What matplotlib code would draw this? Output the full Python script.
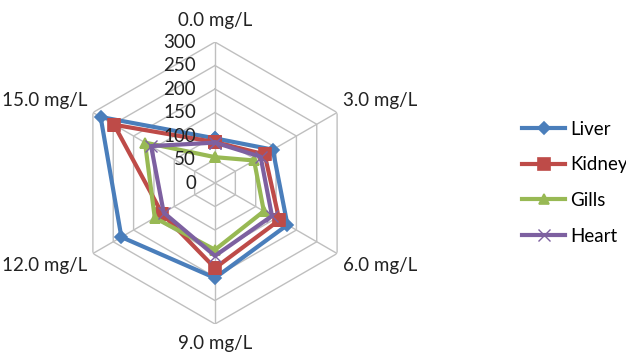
import numpy as np
import matplotlib
matplotlib.use("Agg")
import matplotlib.pyplot as plt

categories = ["0.0 mg/L", "3.0 mg/L", "6.0 mg/L", "9.0 mg/L", "12.0 mg/L", "15.0 mg/L"]
liver = [95, 142, 178, 202, 230, 281]
kidney = [87, 122, 158, 181, 130, 248]
gills = [55, 96, 120, 142, 148, 172]
heart = [86, 112, 140, 155, 126, 157]
r_ticks = [0, 50, 100, 150, 200, 250, 300]

plt.rcParams['font.family'] = ['Lato', 'DejaVu Sans']
FS = 13.5

fig = plt.figure(figsize=(6.26, 3.54), dpi=100)
ax = fig.add_axes([0.1182, 0.0847, 0.4505, 0.7966], polar=True)
ax.set_theta_zero_location('N')
ax.set_theta_direction(-1)
ax.set_ylim(0, 300)
ax.grid(False)
ax.spines['polar'].set_visible(False)
ax.set_xticks([])
ax.set_yticks([])

n = len(categories)
theta = np.linspace(0, 2 * np.pi, n, endpoint=False)
theta_c = np.append(theta, theta[0])

# hexagonal grid
for r in r_ticks[1:]:
    ax.plot(theta_c, [r] * (n + 1), color='#bfbfbf', lw=1.0, zorder=1)
for t in theta:
    ax.plot([t, t], [0, r_ticks[-1]], color='#bfbfbf', lw=1.0, zorder=1)

series = [
    ("Liver", liver, '#4A7EBB', 'D', 6),
    ("Kidney", kidney, '#BE4B48', 's', 8),
    ("Gills", gills, '#98B954', '^', 7),
    ("Heart", heart, '#7D60A0', 'x', 8),
]
handles = []
for name, vals, col, mk, ms in series:
    v = np.append(vals, vals[0])
    h, = ax.plot(theta_c, v, color=col, lw=3.0, marker=mk, ms=ms,
                 markeredgewidth=1.2 if mk != 'x' else 1.0,
                 markerfacecolor=col, markeredgecolor=col, label=name, zorder=3)
    handles.append(h)

inv = fig.transFigure.inverted()
# radial tick labels, left of the vertical spoke
for r in r_ticks:
    x, y = ax.transData.transform((0, r))
    fx, fy = inv.transform((x - 19, y))
    fig.text(fx, fy, str(r), ha='right', va='center', fontsize=FS, color='#222222')

# category labels
offsets = {
    0: (0, 22, 'center', 'center'),
    1: (6, 12, 'left', 'center'),
    2: (6, -12, 'left', 'center'),
    3: (0, -19, 'center', 'center'),
    4: (-6, -12, 'right', 'center'),
    5: (-6, 12, 'right', 'center'),
}
for i, t in enumerate(theta):
    x, y = ax.transData.transform((t, 300))
    dx, dy, ha, va = offsets[i]
    fx, fy = inv.transform((x + dx, y + dy))
    fig.text(fx, fy, categories[i], ha=ha, va=va, fontsize=FS, color='#222222')

fig.legend(handles=handles, loc='center left', bbox_to_anchor=(0.822, 0.484),
           frameon=False, fontsize=FS, labelspacing=1.0, handlelength=2.3,
           handletextpad=0.25, borderaxespad=0)

fig.savefig("out.png", dpi=100)
